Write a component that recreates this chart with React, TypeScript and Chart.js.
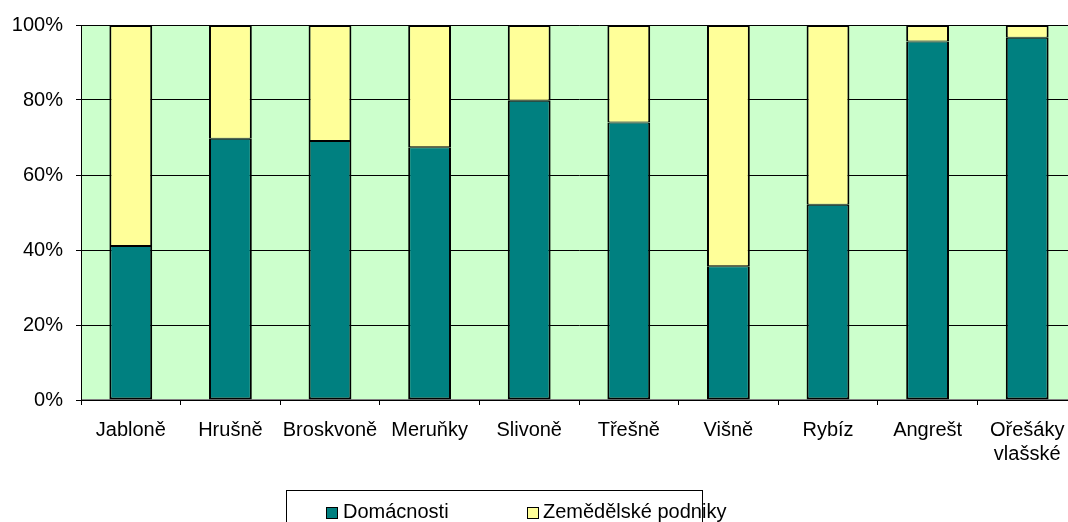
import React, { useEffect, useRef } from "react";
import { Chart, registerables } from "chart.js";

Chart.register(...registerables);

const categories: (string | string[])[] = [
  "Jabloně",
  "Hrušně",
  "Broskvoně",
  "Meruňky",
  "Slivoně",
  "Třešně",
  "Višně",
  "Rybíz",
  "Angrešt",
  ["Ořešáky", "vlašské"],
];
const domacnosti = [41.1, 69.7, 69.1, 67.4, 79.8, 74.0, 35.7, 52.1, 95.6, 96.6];
const zemedelske = [58.9, 30.3, 30.9, 32.6, 20.2, 26.0, 64.3, 47.9, 4.4, 3.4];
const yTicks = [0, 20, 40, 60, 80, 100];

const FONT = '"Liberation Sans", Arial, sans-serif';

const bgPlugin = {
  id: "plotBg",
  beforeDraw(chart: any) {
    const { ctx, chartArea } = chart;
    ctx.save();
    ctx.fillStyle = "#CCFFCC";
    ctx.fillRect(chartArea.left, chartArea.top, chartArea.right - chartArea.left, chartArea.bottom - chartArea.top);
    ctx.strokeStyle = "#808080";
    ctx.lineWidth = 1;
    ctx.strokeRect(chartArea.left + 0.5, chartArea.top + 0.5, chartArea.right - chartArea.left - 1, chartArea.bottom - chartArea.top - 1);
    ctx.restore();
  },
};

export default function App() {
  const ref = useRef<HTMLCanvasElement | null>(null);
  useEffect(() => {
    if (!ref.current) return;
    const chart = new Chart(ref.current, {
      type: "bar",
      data: {
        labels: categories,
        datasets: [
          {
            label: "Domácnosti",
            data: domacnosti,
            backgroundColor: "#008080",
            borderColor: "#000000",
            borderWidth: { top: 1, left: 2, right: 2, bottom: 2 },
            borderSkipped: false,
            categoryPercentage: 1,
            barPercentage: 0.43,
          },
          {
            label: "Zemědělské podniky",
            data: zemedelske,
            backgroundColor: "#FFFF99",
            borderColor: "#000000",
            borderWidth: { top: 2, left: 2, right: 2, bottom: 1 },
            borderSkipped: false,
            categoryPercentage: 1,
            barPercentage: 0.43,
          },
        ],
      },
      plugins: [bgPlugin],
      options: {
        animation: false,
        responsive: false,
        maintainAspectRatio: false,
        layout: { padding: { left: 0, top: 24, right: 3, bottom: 0 } },
        plugins: { legend: { display: false }, tooltip: { enabled: false } },
        scales: {
          x: {
            stacked: true,
            grid: {
              offset: true,
              drawOnChartArea: false,
              drawTicks: true,
              tickLength: 5,
              color: "#000000",
            },
            border: { color: "#000000", width: 1 },
            ticks: {
              color: "#000000",
              font: { family: FONT, size: 20 },
              padding: 13,
              maxRotation: 0,
              autoSkip: false,
            },
            afterFit(scale: any) {
              scale.height = 122;
            },
          },
          y: {
            stacked: true,
            min: 0,
            max: 100,
            afterBuildTicks(scale: any) {
              scale.ticks = yTicks.map((v) => ({ value: v }));
            },
            grid: { color: "#000000", tickLength: 5, lineWidth: 1 },
            border: { color: "#000000", width: 1 },
            ticks: {
              color: "#000000",
              font: { family: FONT, size: 20 },
              padding: 13,
              callback: (v: any) => v + "%",
            },
            afterFit(scale: any) {
              scale.width = 81;
            },
          },
        },
      },
    });
    return () => chart.destroy();
  }, []);

  const text: React.CSSProperties = {
    position: "absolute",
    fontFamily: FONT,
    fontSize: 20,
    lineHeight: "23px",
    color: "#000",
    whiteSpace: "nowrap",
  };
  const sq = (c: string, left: number): React.CSSProperties => ({
    position: "absolute",
    left,
    top: 507,
    width: 10,
    height: 10,
    background: c,
    border: "1px solid #000",
  });

  return (
    <div style={{ position: "fixed", left: 0, top: 0, width: 1068, height: 522, overflow: "hidden", background: "#fff" }}>
      <canvas ref={ref} width={1080} height={522} style={{ position: "absolute", left: 0, top: 0, width: 1080, height: 522 }} />
      <div style={{ position: "absolute", left: 286, top: 490, width: 417, height: 50, border: "1px solid #000", boxSizing: "border-box" }} />
      <div style={sq("#008080", 326)} />
      <span style={{ ...text, left: 343, top: 500 }}>Domácnosti</span>
      <div style={sq("#FFFF99", 527)} />
      <span style={{ ...text, left: 543, top: 500 }}>Zemědělské podniky</span>
    </div>
  );
}
